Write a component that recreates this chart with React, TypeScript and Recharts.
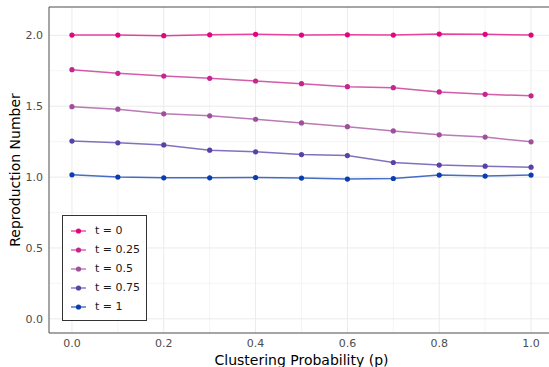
import React from "react";
import {
  LineChart,
  Line,
  XAxis,
  YAxis,
  CartesianGrid,
  Legend,
  ReferenceArea,
} from "recharts";

const clusteringP = [0, 0.1, 0.2, 0.3, 0.4, 0.5, 0.6, 0.7, 0.8, 0.9, 1.0];

const rT0 = [2.002, 2.002, 1.998, 2.004, 2.007, 2.002, 2.004, 2.002, 2.009, 2.007, 2.002];
const rT025 = [1.758, 1.732, 1.713, 1.697, 1.678, 1.659, 1.638, 1.631, 1.601, 1.584, 1.573];
const rT05 = [1.497, 1.479, 1.446, 1.432, 1.408, 1.382, 1.356, 1.326, 1.298, 1.282, 1.249];
const rT075 = [1.254, 1.242, 1.227, 1.19, 1.178, 1.159, 1.152, 1.103, 1.085, 1.077, 1.07];
const rT1 = [1.016, 1.0, 0.995, 0.995, 0.997, 0.993, 0.986, 0.99, 1.014, 1.007, 1.014];

const xTicks = [0, 0.2, 0.4, 0.6, 0.8, 1.0];
const yTicks = [0, 0.5, 1.0, 1.5, 2.0];
const xMinor = [0.1, 0.3, 0.5, 0.7, 0.9];
const yMinor = [0.25, 0.75, 1.25, 1.75];

const series = [
  { key: "t0", name: "t = 0", values: rT0, color: "#e0067d" },
  { key: "t025", name: "t = 0.25", values: rT025, color: "#c6258e" },
  { key: "t05", name: "t = 0.5", values: rT05, color: "#a04f9c" },
  { key: "t075", name: "t = 0.75", values: rT075, color: "#5842a8" },
  { key: "t1", name: "t = 1", values: rT1, color: "#0a3db0" },
];

const data = clusteringP.map((p, i) => {
  const row: Record<string, number> = { p };
  series.forEach((s) => {
    row[s.key] = s.values[i];
  });
  return row;
});

const FONT = "'DejaVu Sans', sans-serif";

function LegendBox() {
  return (
    <div
      style={{
        border: "1px solid #333",
        background: "#fff",
        width: 83,
        height: 99,
        boxSizing: "content-box",
        fontFamily: FONT,
        fontSize: 11,
        color: "#1a1a1a",
        paddingTop: 5,
      }}
    >
      {series.map((s) => (
        <div key={s.key} style={{ display: "flex", alignItems: "center", height: 19 }}>
          <svg width={32} height={10} style={{ flex: "none" }}>
            <line x1={8} x2={23} y1={5} y2={5} stroke={s.color} strokeOpacity={0.75} strokeWidth={1.4} />
            <circle cx={15.5} cy={5} r={2.6} fill={s.color} />
          </svg>
          <span>{s.name}</span>
        </div>
      ))}
    </div>
  );
}

export default function App() {
  return (
    <div
      style={{
        position: "fixed",
        top: 0,
        left: 0,
        width: 549,
        height: 367,
        overflow: "hidden",
        background: "#fff",
        fontFamily: FONT,
      }}
    >
      <LineChart width={556} height={367} data={data} margin={{ top: 7, right: 2, left: 0, bottom: 0 }}>
        <CartesianGrid stroke="#f2f2f2" strokeWidth={0.8} horizontalValues={yMinor} verticalValues={xMinor} />
        <CartesianGrid stroke="#ebebeb" strokeWidth={1} horizontalValues={yTicks} verticalValues={xTicks} />
        <XAxis
          dataKey="p"
          type="number"
          domain={[-0.05, 1.05]}
          ticks={xTicks}
          allowDataOverflow
          tickFormatter={(v: number) => v.toFixed(1)}
          tickLine={false}
          axisLine={false}
          tickSize={0}
          tickMargin={6}
          height={34}
          tick={{ fill: "#4d4d4d", fontSize: 11, fontFamily: FONT }}
          label={{
            value: "Clustering Probability (p)",
            position: "insideBottom",
            offset: 2,
            fill: "#000",
            fontSize: 14,
            fontFamily: FONT,
          }}
        />
        <YAxis
          type="number"
          domain={[-0.1, 2.2]}
          ticks={yTicks}
          allowDataOverflow
          tickFormatter={(v: number) => v.toFixed(1)}
          tickLine={false}
          axisLine={false}
          tickSize={0}
          tickMargin={6}
          width={49}
          tick={{ fill: "#4d4d4d", fontSize: 11, fontFamily: FONT }}
          label={{
            value: "Reproduction Number",
            angle: -90,
            position: "center",
            dx: -9,
            fill: "#000",
            fontSize: 14,
            fontFamily: FONT,
          }}
        />
        <ReferenceArea
          x1={-0.05}
          x2={1.05}
          y1={-0.1}
          y2={2.2}
          fill="none"
          stroke="#4d4d4d"
          strokeWidth={1}
          ifOverflow="visible"
        />
        {series.map((s) => (
          <Line
            key={s.key}
            dataKey={s.key}
            name={s.name}
            type="linear"
            stroke={s.color}
            strokeOpacity={0.75}
            strokeWidth={1.5}
            dot={{ r: 2.6, fill: s.color, stroke: "none", fillOpacity: 1 }}
            activeDot={false}
            isAnimationActive={false}
          />
        ))}
        <Legend
          layout="vertical"
          align="center"
          verticalAlign="middle"
          content={() => <LegendBox />}
          wrapperStyle={{ left: 62, top: 215, width: 85, height: 106 }}
        />
      </LineChart>
    </div>
  );
}
